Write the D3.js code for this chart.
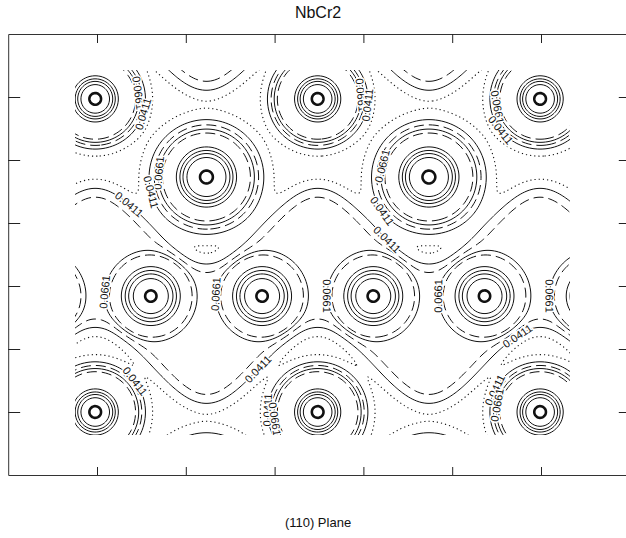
<!DOCTYPE html>
<html>
<head>
<meta charset="utf-8">
<script src="https://cdn.jsdelivr.net/npm/d3@7"></script>
<style>
  body { margin: 0; background: #fff; }
  svg { display: block; font-family: "Liberation Sans", Arial, sans-serif; }
</style>
</head>
<body>
<svg id="chart" width="626" height="538"></svg>
<script>
// both axes run 0..7, ticks on the integers, no tick labels
var axisTicks = [1, 2, 3, 4, 5, 6];

// atom sites in plot units
var rowAX = [0.98, 3.485, 5.99];
var rowAY = [1.03, 6.0];
var rowBX = [-0.2725, 2.2325, 4.7375, 7.2425];
var rowBY = [2.27, 7.24];
var chainX = [-0.898, 0.354, 1.606, 2.859, 4.111, 5.364, 6.616, 7.869];
var chainY = [-0.81, 4.16];

// wavy band of density along the chain: edge y at crest (under row A) and trough (under row B)
var bandTop = [2.43, 3.635];
var bandBottom = [4.667, 5.889];
var bandRepeat = [0, -4.97];

var levels = [0.0286, 0.0411, 0.0536, 0.0661, 0.0786, 0.16, 0.22, 0.3, 0.45, 2.0];
var levelStyle = ["dot", "solid", "dash", "solid", "dash", "solid", "solid", "solid", "solid", "bold"];

// contour labels: level, x, y (plot units, snapped onto the line)
var labels = [
  [0.0661, 1.124, 4.095], [0.0661, 2.351, 4.127], [0.0661, 3.568, 4.159],
  [0.0661, 4.806, 4.159], [0.0661, 6.067, 4.159],
  [0.0411, 1.338, 2.746], [0.0661, 1.709, 2.206], [0.0411, 1.586, 2.508],
  [0.0661, 1.495, 0.937], [0.0411, 1.563, 1.286],
  [0.0661, 4.007, 0.968], [0.0411, 4.097, 1.127],
  [0.0661, 5.437, 1.175], [0.0411, 5.505, 1.571],
  [0.0661, 4.176, 2.079], [0.0411, 4.187, 2.841], [0.0411, 4.243, 3.302],
  [0.0411, 2.723, 5.206], [0.0411, 5.741, 4.81], [0.0411, 1.484, 5.46],
  [0.0411, 2.858, 5.968], [0.0661, 2.925, 6.127],
  [0.0411, 5.37, 5.571], [0.0661, 5.482, 5.889]
];

// window of the plane that was mapped
var fieldX = [0.752, 6.327], fieldY = [0.571, 6.365];

// radial shapes of each site, in pixels
var floorLevel = 0.0238;
var shapes = {
  A: {k: 1.03, s: 9.6, h: 0.08, R: 44, w: 4.8},
  B: {k: 1.22, s: 12.3, h: 0.08, R: 48.5, w: 6.85},
  C: {k: 0.88, s: 12.9, h: 0.04, R: 39, w: 4.16}
};
var spike = {k: 3, s: 4};
var band = {b: 0.035, w: 5};

var svg = d3.select("#chart");
var x = d3.scaleLinear().domain([0, 7]).range([8.2, 629.8]);
var y = d3.scaleLinear().domain([0, 7]).range([34, 475]);

function cross(xs, ys) {
  var out = [];
  ys.forEach(function (yy) { xs.forEach(function (xx) { out.push([x(xx), y(yy)]); }); });
  return out;
}

var atoms = [];
cross(rowAX, rowAY).forEach(function (p) { atoms.push({p: p, sh: shapes.A}); });
cross(rowBX, rowBY).forEach(function (p) { atoms.push({p: p, sh: shapes.B}); });
cross(chainX, chainY).forEach(function (p) { atoms.push({p: p, sh: shapes.C}); });

// band edges in pixels
var kx = x(1) - x(0), ky = y(1) - y(0);
var wavePeriod = (rowAX[1] - rowAX[0]) * kx;
var waveAmp = (bandTop[1] - bandTop[0]) / 2 * ky;
var edgeShift = -0.278 * band.w;   // puts the 0.0411 line on the edge

// sample the field on a pixel grid a bit bigger than the window
var px0 = Math.floor(x(fieldX[0])) - 3, px1 = Math.ceil(x(fieldX[1])) + 3;
var py0 = Math.floor(y(fieldY[0])) - 3, py1 = Math.ceil(y(fieldY[1])) + 3;
var nx = px1 - px0 + 1, ny = py1 - py0 + 1;
var values = new Float64Array(nx * ny);

for (var i = 0; i < nx; i++) {
  var px = px0 + i;
  var phase = 2 * Math.PI * (px - x(rowAX[0])) / wavePeriod;
  var cosP = Math.cos(phase);
  var slope = waveAmp * Math.sin(phase) * 2 * Math.PI / wavePeriod;
  var norm = 1 / Math.sqrt(1 + slope * slope);
  for (var j = 0; j < ny; j++) {
    var py = py0 + j, v = floorLevel;
    atoms.forEach(function (a) {
      var dx = px - a.p[0], dy = py - a.p[1], d2 = dx * dx + dy * dy;
      if (d2 > 40000) return;
      var d = Math.sqrt(d2), sh = a.sh;
      v += sh.k * Math.exp(-d2 / (2 * sh.s * sh.s))
         + spike.k * Math.exp(-d2 / (2 * spike.s * spike.s))
         + sh.h / (1 + Math.exp((d - sh.R) / sh.w));
    });
    bandRepeat.forEach(function (off) {
      var yu = y((bandTop[0] + bandTop[1]) / 2 + off) - waveAmp * cosP;
      var yl = y((bandBottom[0] + bandBottom[1]) / 2 + off) - waveAmp * cosP;
      var e = Math.max(yu - py, py - yl) * norm;
      v += band.b / (1 + Math.exp((e - edgeShift) / band.w));
    });
    values[j * nx + i] = v;
  }
}

var contours = d3.contours().size([nx, ny]).thresholds(levels)(values);

var toPx = d3.geoTransform({
  point: function (gx, gy) { this.stream.point(px0 + gx - 0.5, py0 + gy - 0.5); }
});
var path = d3.geoPath(toPx);

svg.append("clipPath").attr("id", "win")
  .append("rect")
  .attr("x", x(fieldX[0])).attr("y", y(fieldY[0]))
  .attr("width", x(fieldX[1]) - x(fieldX[0]))
  .attr("height", y(fieldY[1]) - y(fieldY[0]));

var plot = svg.append("g").attr("clip-path", "url(#win)");

plot.selectAll("path")
  .data(contours)
  .join("path")
  .attr("d", path)
  .attr("fill", "none")
  .attr("stroke", "#111")
  .attr("stroke-width", function (c, k) { return levelStyle[k] === "bold" ? 2.6 : (levelStyle[k] === "dot" ? 1.1 : 1); })
  .attr("stroke-dasharray", function (c, k) {
    return levelStyle[k] === "dash" ? "10,5" : (levelStyle[k] === "dot" ? "1.2,3" : null);
  });

// label placement: nearest vertex of that level, rotated along the line
function placeLabel(lab) {
  var k = levels.indexOf(lab[0]);
  var tx = x(lab[1]), ty = y(lab[2]);
  var best = null, bestD = Infinity;
  contours[k].coordinates.forEach(function (poly) {
    poly.forEach(function (ring) {
      var pts = ring.map(function (q) { return [px0 + q[0] - 0.5, py0 + q[1] - 0.5]; });
      for (var n = 0; n < pts.length; n++) {
        var dx = pts[n][0] - tx, dy = pts[n][1] - ty, dd = dx * dx + dy * dy;
        if (dd < bestD) { bestD = dd; best = {pts: pts, n: n}; }
      }
    });
  });
  if (!best) return null;
  var pts = best.pts, m = pts.length;
  var a = pts[(best.n - 3 + m) % m], b = pts[(best.n + 3) % m];
  var ang = Math.atan2(b[1] - a[1], b[0] - a[0]) * 180 / Math.PI;
  if (ang > 90) ang -= 180;
  if (ang <= -90) ang += 180;
  return {x: pts[best.n][0], y: pts[best.n][1], ang: ang, text: d3.format(".4f")(lab[0])};
}

plot.selectAll("text.lab")
  .data(labels.map(placeLabel).filter(Boolean))
  .join("text")
  .attr("class", "lab")
  .attr("transform", function (d) { return "translate(" + d.x + "," + d.y + ") rotate(" + d.ang + ")"; })
  .attr("text-anchor", "middle")
  .attr("dy", "0.35em")
  .attr("font-size", 11)
  .attr("fill", "#111")
  .attr("stroke", "#fff")
  .attr("stroke-width", 3)
  .attr("paint-order", "stroke")
  .text(function (d) { return d.text; });

// frame with inward ticks on all four sides
function frame(g) {
  g.select(".domain").attr("stroke", "#333");
  g.selectAll(".tick line").attr("stroke", "#222");
}
svg.append("g").attr("transform", "translate(0," + y(0) + ")")
  .call(d3.axisTop(x).tickValues(axisTicks).tickSize(-9).tickSizeOuter(0).tickFormat(""))
  .call(frame);
svg.append("g").attr("transform", "translate(0," + y(7) + ")")
  .call(d3.axisBottom(x).tickValues(axisTicks).tickSize(-8).tickSizeOuter(0).tickFormat(""))
  .call(frame);
svg.append("g").attr("transform", "translate(" + x(0) + ",0)")
  .call(d3.axisLeft(y).tickValues(axisTicks).tickSize(-12).tickSizeOuter(0).tickFormat(""))
  .call(frame);
svg.append("g").attr("transform", "translate(" + x(7) + ",0)")
  .call(d3.axisRight(y).tickValues(axisTicks).tickSize(-11).tickSizeOuter(0).tickFormat(""))
  .call(frame);

svg.append("text")
  .attr("x", 318).attr("y", 18)
  .attr("text-anchor", "middle")
  .attr("font-size", 16)
  .attr("fill", "#111")
  .text("NbCr2");

svg.append("text")
  .attr("x", 318).attr("y", 527)
  .attr("text-anchor", "middle")
  .attr("font-size", 13)
  .attr("fill", "#111")
  .text("(110) Plane");
</script>
</body>
</html>
